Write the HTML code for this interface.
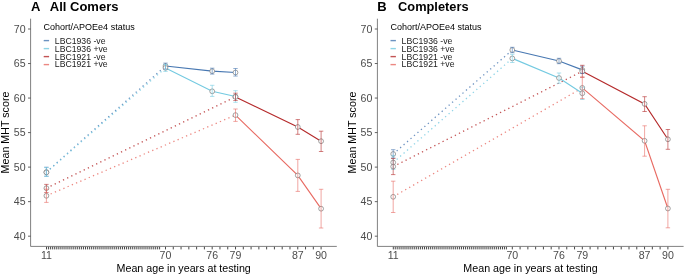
<!DOCTYPE html>
<html><head><meta charset="utf-8"><style>
html,body{margin:0;padding:0;background:#fff;}
body{width:685px;height:276px;overflow:hidden;}
svg{display:block;font-family:"Liberation Sans",sans-serif;}
svg{will-change:transform;}
</style></head><body>
<svg width="685" height="276" viewBox="0 0 685 276">
<rect width="685" height="276" fill="#fff"/>
<g transform="translate(0,0)">
<text x="31.1" y="10.5" font-size="13" font-weight="bold" fill="#000">A</text>
<text x="49.8" y="10.5" font-size="13" font-weight="bold" fill="#000">All Comers</text>
<path d="M30.6 18.7V246.4H336.8" fill="none" stroke="#555" stroke-width="0.75"/>
<line x1="28.0" x2="30.6" y1="29.00" y2="29.00" stroke="#333" stroke-width="0.75"/>
<text x="25.6" y="32.80" font-size="10.6" fill="#4d4d4d" text-anchor="end">70</text>
<line x1="28.0" x2="30.6" y1="63.53" y2="63.53" stroke="#333" stroke-width="0.75"/>
<text x="25.6" y="67.33" font-size="10.6" fill="#4d4d4d" text-anchor="end">65</text>
<line x1="28.0" x2="30.6" y1="98.06" y2="98.06" stroke="#333" stroke-width="0.75"/>
<text x="25.6" y="101.86" font-size="10.6" fill="#4d4d4d" text-anchor="end">60</text>
<line x1="28.0" x2="30.6" y1="132.59" y2="132.59" stroke="#333" stroke-width="0.75"/>
<text x="25.6" y="136.39" font-size="10.6" fill="#4d4d4d" text-anchor="end">55</text>
<line x1="28.0" x2="30.6" y1="167.12" y2="167.12" stroke="#333" stroke-width="0.75"/>
<text x="25.6" y="170.92" font-size="10.6" fill="#4d4d4d" text-anchor="end">50</text>
<line x1="28.0" x2="30.6" y1="201.65" y2="201.65" stroke="#333" stroke-width="0.75"/>
<text x="25.6" y="205.45" font-size="10.6" fill="#4d4d4d" text-anchor="end">45</text>
<line x1="28.0" x2="30.6" y1="236.18" y2="236.18" stroke="#333" stroke-width="0.75"/>
<text x="25.6" y="239.98" font-size="10.6" fill="#4d4d4d" text-anchor="end">40</text>
<path d="M46.50 246.8V249.4M48.45 246.8V249.4M50.40 246.8V249.4M52.35 246.8V249.4M54.30 246.8V249.4M56.25 246.8V249.4M58.20 246.8V249.4M60.15 246.8V249.4M62.10 246.8V249.4M64.05 246.8V249.4M66.00 246.8V249.4M67.95 246.8V249.4M69.90 246.8V249.4M71.85 246.8V249.4M73.80 246.8V249.4M75.75 246.8V249.4M77.70 246.8V249.4M79.65 246.8V249.4M81.60 246.8V249.4M83.55 246.8V249.4M85.50 246.8V249.4M87.45 246.8V249.4M89.40 246.8V249.4M91.35 246.8V249.4M93.30 246.8V249.4M95.25 246.8V249.4M97.20 246.8V249.4M99.15 246.8V249.4M101.10 246.8V249.4M103.05 246.8V249.4M105.00 246.8V249.4M106.95 246.8V249.4M108.90 246.8V249.4M110.85 246.8V249.4M112.80 246.8V249.4M114.75 246.8V249.4M116.70 246.8V249.4M118.65 246.8V249.4M120.60 246.8V249.4M122.55 246.8V249.4M124.50 246.8V249.4M126.45 246.8V249.4M128.40 246.8V249.4M130.35 246.8V249.4M132.30 246.8V249.4M134.25 246.8V249.4M136.20 246.8V249.4M138.15 246.8V249.4M140.10 246.8V249.4M142.05 246.8V249.4M144.00 246.8V249.4M145.95 246.8V249.4M147.90 246.8V249.4M149.85 246.8V249.4M151.80 246.8V249.4M153.75 246.8V249.4M155.70 246.8V249.4M157.65 246.8V249.4M159.60 246.8V249.4M165.50 246.8V249.4M173.28 246.8V249.4M181.06 246.8V249.4M188.84 246.8V249.4M196.62 246.8V249.4M204.40 246.8V249.4M212.18 246.8V249.4M219.96 246.8V249.4M227.74 246.8V249.4M235.52 246.8V249.4M243.30 246.8V249.4M251.08 246.8V249.4M258.86 246.8V249.4M266.64 246.8V249.4M274.42 246.8V249.4M282.20 246.8V249.4M289.98 246.8V249.4M297.76 246.8V249.4M305.54 246.8V249.4M313.32 246.8V249.4M321.10 246.8V249.4" stroke="#333" stroke-width="0.9"/>
<text x="46.4" y="259.0" font-size="10.6" fill="#4d4d4d" text-anchor="middle">11</text>
<text x="165.5" y="259.0" font-size="10.6" fill="#4d4d4d" text-anchor="middle">70</text>
<text x="212.2" y="259.0" font-size="10.6" fill="#4d4d4d" text-anchor="middle">76</text>
<text x="235.5" y="259.0" font-size="10.6" fill="#4d4d4d" text-anchor="middle">79</text>
<text x="297.8" y="259.0" font-size="10.6" fill="#4d4d4d" text-anchor="middle">87</text>
<text x="321.1" y="259.0" font-size="10.6" fill="#4d4d4d" text-anchor="middle">90</text>
<text x="183.7" y="271.8" font-size="10.7" fill="#000" text-anchor="middle">Mean age in years at testing</text>
<text transform="translate(9.0,132.5) rotate(-90)" x="0" y="0" font-size="10.7" fill="#000" text-anchor="middle">Mean MHT score</text>
<text x="43.6" y="30.3" font-size="9.0" fill="#000">Cohort/APOEe4 status</text>
<line x1="43.7" x2="49.1" y1="40.60" y2="40.60" stroke="#4878b2" stroke-width="1.4" opacity="0.8"/>
<text x="54.8" y="43.75" font-size="8.7" fill="#1a1a1a">LBC1936 -ve</text>
<line x1="43.7" x2="49.1" y1="48.60" y2="48.60" stroke="#74cae1" stroke-width="1.4" opacity="0.8"/>
<text x="54.8" y="51.63" font-size="8.7" fill="#1a1a1a">LBC1936 +ve</text>
<line x1="43.7" x2="49.1" y1="56.60" y2="56.60" stroke="#b52a2b" stroke-width="1.4" opacity="0.8"/>
<text x="54.8" y="59.51" font-size="8.7" fill="#1a1a1a">LBC1921 -ve</text>
<line x1="43.7" x2="49.1" y1="64.60" y2="64.60" stroke="#e86b63" stroke-width="1.4" opacity="0.8"/>
<text x="54.8" y="67.39" font-size="8.7" fill="#1a1a1a">LBC1921 +ve</text>
<line x1="46.4" y1="172.1" x2="165.5" y2="66.0" stroke="#4878b2" stroke-width="1.3" stroke-dasharray="1.3 3.3" opacity="0.8"/>
<line x1="46.4" y1="172.4" x2="165.5" y2="67.9" stroke="#74cae1" stroke-width="1.3" stroke-dasharray="1.3 3.3" opacity="0.8"/>
<line x1="46.4" y1="188.2" x2="235.5" y2="96.9" stroke="#b52a2b" stroke-width="1.3" stroke-dasharray="1.3 3.3" opacity="0.8"/>
<line x1="46.4" y1="195.8" x2="235.5" y2="115.1" stroke="#e86b63" stroke-width="1.3" stroke-dasharray="1.3 3.3" opacity="0.8"/>
<path d="M165.5 66.0 L212.2 71.15 L235.5 72.5" fill="none" stroke="#4878b2" stroke-width="1.15"/>
<path d="M165.5 67.9 L212.2 91.3 L235.5 96.5" fill="none" stroke="#74cae1" stroke-width="1.15"/>
<path d="M235.5 96.9 L297.8 127.0 L321.1 141.2" fill="none" stroke="#b52a2b" stroke-width="1.15"/>
<path d="M235.5 115.1 L297.8 175.4 L321.1 208.7" fill="none" stroke="#e86b63" stroke-width="1.15"/>
<circle cx="46.4" cy="172.1" r="2.4" fill="#fff" stroke="#7a7a7a" stroke-width="0.7"/>
<circle cx="165.5" cy="66.0" r="2.4" fill="#fff" stroke="#7a7a7a" stroke-width="0.7"/>
<circle cx="212.2" cy="71.15" r="2.4" fill="#fff" stroke="#7a7a7a" stroke-width="0.7"/>
<circle cx="235.5" cy="72.5" r="2.4" fill="#fff" stroke="#7a7a7a" stroke-width="0.7"/>
<circle cx="46.4" cy="172.4" r="2.4" fill="#fff" stroke="#7a7a7a" stroke-width="0.7"/>
<circle cx="165.5" cy="67.9" r="2.4" fill="#fff" stroke="#7a7a7a" stroke-width="0.7"/>
<circle cx="212.2" cy="91.3" r="2.4" fill="#fff" stroke="#7a7a7a" stroke-width="0.7"/>
<circle cx="235.5" cy="96.5" r="2.4" fill="#fff" stroke="#7a7a7a" stroke-width="0.7"/>
<circle cx="46.4" cy="188.2" r="2.4" fill="#fff" stroke="#7a7a7a" stroke-width="0.7"/>
<circle cx="235.5" cy="96.9" r="2.4" fill="#fff" stroke="#7a7a7a" stroke-width="0.7"/>
<circle cx="297.8" cy="127.0" r="2.4" fill="#fff" stroke="#7a7a7a" stroke-width="0.7"/>
<circle cx="321.1" cy="141.2" r="2.4" fill="#fff" stroke="#7a7a7a" stroke-width="0.7"/>
<circle cx="46.4" cy="195.8" r="2.4" fill="#fff" stroke="#7a7a7a" stroke-width="0.7"/>
<circle cx="235.5" cy="115.1" r="2.4" fill="#fff" stroke="#7a7a7a" stroke-width="0.7"/>
<circle cx="297.8" cy="175.4" r="2.4" fill="#fff" stroke="#7a7a7a" stroke-width="0.7"/>
<circle cx="321.1" cy="208.7" r="2.4" fill="#fff" stroke="#7a7a7a" stroke-width="0.7"/>
<path d="M44.20 167.2H48.60M46.4 167.2V176.2M44.20 176.2H48.60" fill="none" stroke="#4878b2" stroke-width="0.7" opacity="0.85"/>
<path d="M163.30 63.1H167.70M165.5 63.1V69.0M163.30 69.0H167.70" fill="none" stroke="#4878b2" stroke-width="0.7" opacity="0.85"/>
<path d="M210.00 68.2H214.40M212.2 68.2V74.1M210.00 74.1H214.40" fill="none" stroke="#4878b2" stroke-width="0.7" opacity="0.85"/>
<path d="M233.30 68.5H237.70M235.5 68.5V76.05M233.30 76.05H237.70" fill="none" stroke="#4878b2" stroke-width="0.7" opacity="0.85"/>
<path d="M44.20 167.6H48.60M46.4 167.6V176.4M44.20 176.4H48.60" fill="none" stroke="#74cae1" stroke-width="0.7" opacity="0.85"/>
<path d="M163.30 64.5H167.70M165.5 64.5V71.4M163.30 71.4H167.70" fill="none" stroke="#74cae1" stroke-width="0.7" opacity="0.85"/>
<path d="M210.00 85.3H214.40M212.2 85.3V96.4M210.00 96.4H214.40" fill="none" stroke="#74cae1" stroke-width="0.7" opacity="0.85"/>
<path d="M233.30 90.7H237.70M235.5 90.7V102.3M233.30 102.3H237.70" fill="none" stroke="#74cae1" stroke-width="0.7" opacity="0.85"/>
<path d="M44.20 184.4H48.60M46.4 184.4V192.6M44.20 192.6H48.60" fill="none" stroke="#b52a2b" stroke-width="0.7" opacity="0.85"/>
<path d="M233.30 93.2H237.70M235.5 93.2V100.5M233.30 100.5H237.70" fill="none" stroke="#b52a2b" stroke-width="0.7" opacity="0.85"/>
<path d="M295.60 119.6H300.00M297.8 119.6V134.3M295.60 134.3H300.00" fill="none" stroke="#b52a2b" stroke-width="0.7" opacity="0.85"/>
<path d="M318.90 131.2H323.30M321.1 131.2V151.5M318.90 151.5H323.30" fill="none" stroke="#b52a2b" stroke-width="0.7" opacity="0.85"/>
<path d="M44.20 189.2H48.60M46.4 189.2V202.4M44.20 202.4H48.60" fill="none" stroke="#e86b63" stroke-width="0.7" opacity="0.85"/>
<path d="M233.30 109.0H237.70M235.5 109.0V121.4M233.30 121.4H237.70" fill="none" stroke="#e86b63" stroke-width="0.7" opacity="0.85"/>
<path d="M295.60 159.4H300.00M297.8 159.4V191.4M295.60 191.4H300.00" fill="none" stroke="#e86b63" stroke-width="0.7" opacity="0.85"/>
<path d="M318.90 189.3H323.30M321.1 189.3V228.0M318.90 228.0H323.30" fill="none" stroke="#e86b63" stroke-width="0.7" opacity="0.85"/>
</g>
<g transform="translate(346.8,0)">
<text x="30.4" y="10.5" font-size="13" font-weight="bold" fill="#000">B</text>
<text x="51.3" y="10.5" font-size="12.8" font-weight="bold" fill="#000">Completers</text>
<path d="M30.6 18.7V246.4H336.8" fill="none" stroke="#555" stroke-width="0.75"/>
<line x1="28.0" x2="30.6" y1="29.00" y2="29.00" stroke="#333" stroke-width="0.75"/>
<text x="25.6" y="32.80" font-size="10.6" fill="#4d4d4d" text-anchor="end">70</text>
<line x1="28.0" x2="30.6" y1="63.53" y2="63.53" stroke="#333" stroke-width="0.75"/>
<text x="25.6" y="67.33" font-size="10.6" fill="#4d4d4d" text-anchor="end">65</text>
<line x1="28.0" x2="30.6" y1="98.06" y2="98.06" stroke="#333" stroke-width="0.75"/>
<text x="25.6" y="101.86" font-size="10.6" fill="#4d4d4d" text-anchor="end">60</text>
<line x1="28.0" x2="30.6" y1="132.59" y2="132.59" stroke="#333" stroke-width="0.75"/>
<text x="25.6" y="136.39" font-size="10.6" fill="#4d4d4d" text-anchor="end">55</text>
<line x1="28.0" x2="30.6" y1="167.12" y2="167.12" stroke="#333" stroke-width="0.75"/>
<text x="25.6" y="170.92" font-size="10.6" fill="#4d4d4d" text-anchor="end">50</text>
<line x1="28.0" x2="30.6" y1="201.65" y2="201.65" stroke="#333" stroke-width="0.75"/>
<text x="25.6" y="205.45" font-size="10.6" fill="#4d4d4d" text-anchor="end">45</text>
<line x1="28.0" x2="30.6" y1="236.18" y2="236.18" stroke="#333" stroke-width="0.75"/>
<text x="25.6" y="239.98" font-size="10.6" fill="#4d4d4d" text-anchor="end">40</text>
<path d="M46.50 246.8V249.4M48.45 246.8V249.4M50.40 246.8V249.4M52.35 246.8V249.4M54.30 246.8V249.4M56.25 246.8V249.4M58.20 246.8V249.4M60.15 246.8V249.4M62.10 246.8V249.4M64.05 246.8V249.4M66.00 246.8V249.4M67.95 246.8V249.4M69.90 246.8V249.4M71.85 246.8V249.4M73.80 246.8V249.4M75.75 246.8V249.4M77.70 246.8V249.4M79.65 246.8V249.4M81.60 246.8V249.4M83.55 246.8V249.4M85.50 246.8V249.4M87.45 246.8V249.4M89.40 246.8V249.4M91.35 246.8V249.4M93.30 246.8V249.4M95.25 246.8V249.4M97.20 246.8V249.4M99.15 246.8V249.4M101.10 246.8V249.4M103.05 246.8V249.4M105.00 246.8V249.4M106.95 246.8V249.4M108.90 246.8V249.4M110.85 246.8V249.4M112.80 246.8V249.4M114.75 246.8V249.4M116.70 246.8V249.4M118.65 246.8V249.4M120.60 246.8V249.4M122.55 246.8V249.4M124.50 246.8V249.4M126.45 246.8V249.4M128.40 246.8V249.4M130.35 246.8V249.4M132.30 246.8V249.4M134.25 246.8V249.4M136.20 246.8V249.4M138.15 246.8V249.4M140.10 246.8V249.4M142.05 246.8V249.4M144.00 246.8V249.4M145.95 246.8V249.4M147.90 246.8V249.4M149.85 246.8V249.4M151.80 246.8V249.4M153.75 246.8V249.4M155.70 246.8V249.4M157.65 246.8V249.4M159.60 246.8V249.4M165.50 246.8V249.4M173.28 246.8V249.4M181.06 246.8V249.4M188.84 246.8V249.4M196.62 246.8V249.4M204.40 246.8V249.4M212.18 246.8V249.4M219.96 246.8V249.4M227.74 246.8V249.4M235.52 246.8V249.4M243.30 246.8V249.4M251.08 246.8V249.4M258.86 246.8V249.4M266.64 246.8V249.4M274.42 246.8V249.4M282.20 246.8V249.4M289.98 246.8V249.4M297.76 246.8V249.4M305.54 246.8V249.4M313.32 246.8V249.4M321.10 246.8V249.4" stroke="#333" stroke-width="0.9"/>
<text x="46.4" y="259.0" font-size="10.6" fill="#4d4d4d" text-anchor="middle">11</text>
<text x="165.5" y="259.0" font-size="10.6" fill="#4d4d4d" text-anchor="middle">70</text>
<text x="212.2" y="259.0" font-size="10.6" fill="#4d4d4d" text-anchor="middle">76</text>
<text x="235.5" y="259.0" font-size="10.6" fill="#4d4d4d" text-anchor="middle">79</text>
<text x="297.8" y="259.0" font-size="10.6" fill="#4d4d4d" text-anchor="middle">87</text>
<text x="321.1" y="259.0" font-size="10.6" fill="#4d4d4d" text-anchor="middle">90</text>
<text x="183.7" y="271.8" font-size="10.7" fill="#000" text-anchor="middle">Mean age in years at testing</text>
<text transform="translate(9.0,132.5) rotate(-90)" x="0" y="0" font-size="10.7" fill="#000" text-anchor="middle">Mean MHT score</text>
<text x="43.6" y="30.3" font-size="9.0" fill="#000">Cohort/APOEe4 status</text>
<line x1="43.7" x2="49.1" y1="40.60" y2="40.60" stroke="#4878b2" stroke-width="1.4" opacity="0.8"/>
<text x="54.8" y="43.75" font-size="8.7" fill="#1a1a1a">LBC1936 -ve</text>
<line x1="43.7" x2="49.1" y1="48.60" y2="48.60" stroke="#74cae1" stroke-width="1.4" opacity="0.8"/>
<text x="54.8" y="51.63" font-size="8.7" fill="#1a1a1a">LBC1936 +ve</text>
<line x1="43.7" x2="49.1" y1="56.60" y2="56.60" stroke="#b52a2b" stroke-width="1.4" opacity="0.8"/>
<text x="54.8" y="59.51" font-size="8.7" fill="#1a1a1a">LBC1921 -ve</text>
<line x1="43.7" x2="49.1" y1="64.60" y2="64.60" stroke="#e86b63" stroke-width="1.4" opacity="0.8"/>
<text x="54.8" y="67.39" font-size="8.7" fill="#1a1a1a">LBC1921 +ve</text>
<line x1="46.4" y1="154.0" x2="165.5" y2="50.0" stroke="#4878b2" stroke-width="1.3" stroke-dasharray="1.3 3.3" opacity="0.8"/>
<line x1="46.4" y1="162.5" x2="165.5" y2="58.4" stroke="#74cae1" stroke-width="1.3" stroke-dasharray="1.3 3.3" opacity="0.8"/>
<line x1="46.4" y1="166.6" x2="235.5" y2="71.3" stroke="#b52a2b" stroke-width="1.3" stroke-dasharray="1.3 3.3" opacity="0.8"/>
<line x1="46.4" y1="196.8" x2="235.5" y2="87.9" stroke="#e86b63" stroke-width="1.3" stroke-dasharray="1.3 3.3" opacity="0.8"/>
<path d="M165.5 50.0 L212.2 61.0 L235.5 69.9" fill="none" stroke="#4878b2" stroke-width="1.15"/>
<path d="M165.5 58.4 L212.2 78.0 L235.5 93.3" fill="none" stroke="#74cae1" stroke-width="1.15"/>
<path d="M235.5 71.3 L297.8 103.9 L321.1 139.3" fill="none" stroke="#b52a2b" stroke-width="1.15"/>
<path d="M235.5 87.9 L297.8 140.8 L321.1 208.5" fill="none" stroke="#e86b63" stroke-width="1.15"/>
<circle cx="46.4" cy="154.0" r="2.4" fill="#fff" stroke="#7a7a7a" stroke-width="0.7"/>
<circle cx="165.5" cy="50.0" r="2.4" fill="#fff" stroke="#7a7a7a" stroke-width="0.7"/>
<circle cx="212.2" cy="61.0" r="2.4" fill="#fff" stroke="#7a7a7a" stroke-width="0.7"/>
<circle cx="235.5" cy="69.9" r="2.4" fill="#fff" stroke="#7a7a7a" stroke-width="0.7"/>
<circle cx="46.4" cy="162.5" r="2.4" fill="#fff" stroke="#7a7a7a" stroke-width="0.7"/>
<circle cx="165.5" cy="58.4" r="2.4" fill="#fff" stroke="#7a7a7a" stroke-width="0.7"/>
<circle cx="212.2" cy="78.0" r="2.4" fill="#fff" stroke="#7a7a7a" stroke-width="0.7"/>
<circle cx="235.5" cy="93.3" r="2.4" fill="#fff" stroke="#7a7a7a" stroke-width="0.7"/>
<circle cx="46.4" cy="166.6" r="2.4" fill="#fff" stroke="#7a7a7a" stroke-width="0.7"/>
<circle cx="235.5" cy="71.3" r="2.4" fill="#fff" stroke="#7a7a7a" stroke-width="0.7"/>
<circle cx="297.8" cy="103.9" r="2.4" fill="#fff" stroke="#7a7a7a" stroke-width="0.7"/>
<circle cx="321.1" cy="139.3" r="2.4" fill="#fff" stroke="#7a7a7a" stroke-width="0.7"/>
<circle cx="46.4" cy="196.8" r="2.4" fill="#fff" stroke="#7a7a7a" stroke-width="0.7"/>
<circle cx="235.5" cy="87.9" r="2.4" fill="#fff" stroke="#7a7a7a" stroke-width="0.7"/>
<circle cx="297.8" cy="140.8" r="2.4" fill="#fff" stroke="#7a7a7a" stroke-width="0.7"/>
<circle cx="321.1" cy="208.5" r="2.4" fill="#fff" stroke="#7a7a7a" stroke-width="0.7"/>
<path d="M44.20 149.7H48.60M46.4 149.7V158.1M44.20 158.1H48.60" fill="none" stroke="#4878b2" stroke-width="0.7" opacity="0.85"/>
<path d="M163.30 47.3H167.70M165.5 47.3V52.7M163.30 52.7H167.70" fill="none" stroke="#4878b2" stroke-width="0.7" opacity="0.85"/>
<path d="M210.00 58.3H214.40M212.2 58.3V63.7M210.00 63.7H214.40" fill="none" stroke="#4878b2" stroke-width="0.7" opacity="0.85"/>
<path d="M233.30 66.2H237.70M235.5 66.2V73.5M233.30 73.5H237.70" fill="none" stroke="#4878b2" stroke-width="0.7" opacity="0.85"/>
<path d="M44.20 155.7H48.60M46.4 155.7V169.3M44.20 169.3H48.60" fill="none" stroke="#74cae1" stroke-width="0.7" opacity="0.85"/>
<path d="M163.30 54.3H167.70M165.5 54.3V62.5M163.30 62.5H167.70" fill="none" stroke="#74cae1" stroke-width="0.7" opacity="0.85"/>
<path d="M210.00 73.0H214.40M212.2 73.0V83.3M210.00 83.3H214.40" fill="none" stroke="#74cae1" stroke-width="0.7" opacity="0.85"/>
<path d="M233.30 87.2H237.70M235.5 87.2V99.5M233.30 99.5H237.70" fill="none" stroke="#74cae1" stroke-width="0.7" opacity="0.85"/>
<path d="M44.20 158.4H48.60M46.4 158.4V174.6M44.20 174.6H48.60" fill="none" stroke="#b52a2b" stroke-width="0.7" opacity="0.85"/>
<path d="M233.30 65.3H237.70M235.5 65.3V77.3M233.30 77.3H237.70" fill="none" stroke="#b52a2b" stroke-width="0.7" opacity="0.85"/>
<path d="M295.60 96.7H300.00M297.8 96.7V111.5M295.60 111.5H300.00" fill="none" stroke="#b52a2b" stroke-width="0.7" opacity="0.85"/>
<path d="M318.90 129.5H323.30M321.1 129.5V149.3M318.90 149.3H323.30" fill="none" stroke="#b52a2b" stroke-width="0.7" opacity="0.85"/>
<path d="M44.20 181.2H48.60M46.4 181.2V212.5M44.20 212.5H48.60" fill="none" stroke="#e86b63" stroke-width="0.7" opacity="0.85"/>
<path d="M233.30 77.0H237.70M235.5 77.0V98.6M233.30 98.6H237.70" fill="none" stroke="#e86b63" stroke-width="0.7" opacity="0.85"/>
<path d="M295.60 125.8H300.00M297.8 125.8V156.2M295.60 156.2H300.00" fill="none" stroke="#e86b63" stroke-width="0.7" opacity="0.85"/>
<path d="M318.90 189.3H323.30M321.1 189.3V227.8M318.90 227.8H323.30" fill="none" stroke="#e86b63" stroke-width="0.7" opacity="0.85"/>
</g>
</svg>
</body></html>
